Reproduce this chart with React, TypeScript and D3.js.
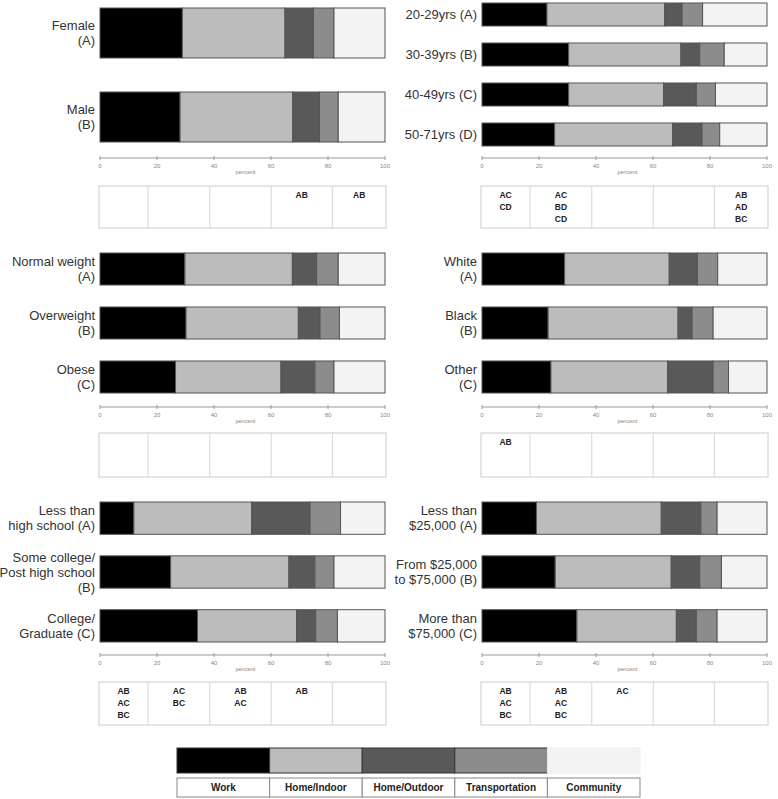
import React from "react";
import * as d3 from "d3";

const segments = ["Work", "Home/Indoor", "Home/Outdoor", "Transportation", "Community"];
const segmentColors = ["#000000", "#bcbcbc", "#595959", "#8c8c8c", "#f3f3f3"];
const tickValues = [0, 20, 40, 60, 80, 100];

const genderLabels = [["Female", "(A)"], ["Male", "(B)"]];
const genderValues = [
  [28.9, 36.0, 10.0, 7.2, 17.9],
  [28.1, 39.5, 9.4, 6.6, 16.4],
];
const genderSig = [[], [], [], ["AB"], ["AB"]];

const ageLabels = [["20-29yrs (A)"], ["30-39yrs (B)"], ["40-49yrs (C)"], ["50-71yrs (D)"]];
const ageValues = [
  [22.8, 41.3, 6.1, 7.2, 22.6],
  [30.4, 39.4, 6.6, 8.6, 15.0],
  [30.4, 33.3, 11.5, 6.7, 18.1],
  [25.5, 41.4, 10.3, 6.2, 16.6],
];
const ageSig = [["AC", "CD"], ["AC", "BD", "CD"], [], [], ["AB", "AD", "BC"]];

const bmiLabels = [["Normal weight", "(A)"], ["Overweight", "(B)"], ["Obese", "(C)"]];
const bmiValues = [
  [29.8, 37.7, 8.5, 7.6, 16.4],
  [30.2, 39.4, 7.6, 6.8, 16.0],
  [26.5, 37.0, 11.9, 6.7, 17.9],
];
const bmiSig = [[], [], [], [], []];

const raceLabels = [["White", "(A)"], ["Black", "(B)"], ["Other", "(C)"]];
const raceValues = [
  [29.0, 36.7, 9.9, 7.1, 17.3],
  [23.2, 45.6, 4.9, 7.4, 18.9],
  [24.2, 40.9, 16.0, 5.4, 13.5],
];
const raceSig = [["AB"], [], [], [], []];

const eduLabels = [["Less than", "high school (A)"], ["Some college/", "Post high school", "(B)"], ["College/", "Graduate (C)"]];
const eduValues = [
  [11.9, 41.3, 20.5, 10.7, 15.6],
  [24.8, 41.5, 9.1, 6.7, 17.9],
  [34.2, 34.8, 6.7, 7.6, 16.7],
];
const eduSig = [["AB", "AC", "BC"], ["AC", "BC"], ["AB", "AC"], ["AB"], []];

const incomeLabels = [["Less than", "$25,000 (A)"], ["From $25,000", "to $75,000 (B)"], ["More than", "$75,000 (C)"]];
const incomeValues = [
  [19.1, 43.8, 13.9, 5.7, 17.5],
  [25.7, 40.7, 10.0, 7.6, 16.0],
  [33.3, 34.9, 7.0, 7.3, 17.5],
];
const incomeSig = [["AB", "AC", "BC"], ["AB", "AC", "BC"], ["AC"], [], []];

const FONT = "'Liberation Sans', Arial, Helvetica, sans-serif";
const colRanges = [[100, 385], [482, 767]];
const tableCols = [0, 0.171, 0.386, 0.6, 0.813, 1];

const panels = [
  { labels: genderLabels, values: genderValues, sig: genderSig, col: 0, top: 8, bottom: 142, pad: 0.405, axisY: 158, tTop: 186, tBot: 228 },
  { labels: ageLabels, values: ageValues, sig: ageSig, col: 1, top: 3, bottom: 146, pad: 0.425, axisY: 158, tTop: 186, tBot: 228 },
  { labels: bmiLabels, values: bmiValues, sig: bmiSig, col: 0, top: 253, bottom: 393, pad: 0.407, axisY: 407, tTop: 433, tBot: 477 },
  { labels: raceLabels, values: raceValues, sig: raceSig, col: 1, top: 253, bottom: 393, pad: 0.407, axisY: 407, tTop: 433, tBot: 477 },
  { labels: eduLabels, values: eduValues, sig: eduSig, col: 0, top: 502, bottom: 642, pad: 0.4, axisY: 655, tTop: 682, tBot: 725 },
  { labels: incomeLabels, values: incomeValues, sig: incomeSig, col: 1, top: 502, bottom: 642, pad: 0.4, axisY: 655, tTop: 682, tBot: 725 },
];

function Panel({ p }: { p: any }) {
  const [x0, x1] = colRanges[p.col];
  const x = d3.scaleLinear().domain([0, 100]).range([x0, x1]);
  const y = d3
    .scaleBand<number>()
    .domain(d3.range(p.values.length))
    .range([p.top, p.bottom])
    .paddingInner(p.pad)
    .paddingOuter(0);
  const stack = d3
    .stack<number[]>()
    .keys(segments.map((_, i) => String(i)))
    .value((d, k) => d[+k]);
  const series = stack(p.values);
  const tx0 = x(0) - 1;
  const tx1 = x(100) + 1;
  const tw = tx1 - tx0;
  return (
    <g>
      {series.map((s, si) => (
        <g key={si}>
          {s.map((d, ri) => (
            <rect
              key={ri}
              x={x(d[0])}
              y={y(ri)}
              width={x(d[1]) - x(d[0])}
              height={y.bandwidth()}
              fill={segmentColors[si]}
              stroke="#555"
              strokeWidth={1}
            />
          ))}
        </g>
      ))}
      {p.labels.map((lines: string[], ri: number) => {
        const cy = (y(ri) as number) + y.bandwidth() / 2;
        const lh = 15;
        const startY = cy - ((lines.length - 1) * lh) / 2;
        return (
          <text
            key={ri}
            x={x0 - 5}
            textAnchor="end"
            fontFamily={FONT}
            fontSize={13}
            fill="#333"
          >
            {lines.map((l, li) => (
              <tspan key={li} x={x0 - 5} y={startY + li * lh + 4.5}>
                {l}
              </tspan>
            ))}
          </text>
        );
      })}
      <line x1={x(0)} x2={x(100)} y1={p.axisY} y2={p.axisY} stroke="#999" strokeWidth={1} />
      {tickValues.map((t) => (
        <g key={t}>
          <line x1={x(t)} x2={x(t)} y1={p.axisY - 2} y2={p.axisY + 2} stroke="#999" strokeWidth={1} />
          <text x={x(t)} y={p.axisY + 10} textAnchor="middle" fontFamily={FONT} fontSize={6} fill="#888">
            {t}
          </text>
        </g>
      ))}
      <text x={x(50) + 3} y={p.axisY + 16} textAnchor="middle" fontFamily={FONT} fontSize={6} fill="#888">
        percent
      </text>
      <rect x={tx0} y={p.tTop} width={tw} height={p.tBot - p.tTop} fill="#fff" stroke="#ccc" strokeWidth={1} />
      {tableCols.slice(1, -1).map((f, i) => (
        <line key={i} x1={tx0 + f * tw} x2={tx0 + f * tw} y1={p.tTop} y2={p.tBot} stroke="#d6d6d6" strokeWidth={1} />
      ))}
      {p.sig.map((cell: string[], ci: number) => {
        const cx = tx0 + ((tableCols[ci] + tableCols[ci + 1]) / 2) * tw;
        return cell.map((s, li) => (
          <text
            key={ci + "-" + li}
            x={cx}
            y={p.tTop + 12 + li * 12}
            textAnchor="middle"
            fontFamily={FONT}
            fontSize={8.5}
            fontWeight="bold"
            fill="#222"
          >
            {s}
          </text>
        ));
      })}
    </g>
  );
}

function Legend() {
  const lx = d3.scaleBand<number>().domain(d3.range(segments.length)).range([177, 640]).padding(0);
  return (
    <g>
      {segments.map((s, i) => (
        <g key={s}>
          <rect x={lx(i)} y={748} width={lx.bandwidth()} height={25} fill={segmentColors[i]} stroke={i === 4 ? "#eee" : "#333"} strokeWidth={1} />
          <rect x={lx(i)} y={778} width={lx.bandwidth()} height={19} fill="#fff" stroke="#888" strokeWidth={1} />
          <text
            x={(lx(i) as number) + lx.bandwidth() / 2}
            y={791}
            textAnchor="middle"
            fontFamily={FONT}
            fontSize={10}
            fontWeight="bold"
            fill="#222"
          >
            {s}
          </text>
        </g>
      ))}
    </g>
  );
}

export default function App() {
  return (
    <svg
      width={778}
      height={799}
      style={{ position: "absolute", left: 0, top: 0, background: "#fff" }}
    >
      <rect x={0} y={0} width={778} height={799} fill="#fff" />
      {panels.map((p, i) => (
        <Panel key={i} p={p} />
      ))}
      <Legend />
    </svg>
  );
}
